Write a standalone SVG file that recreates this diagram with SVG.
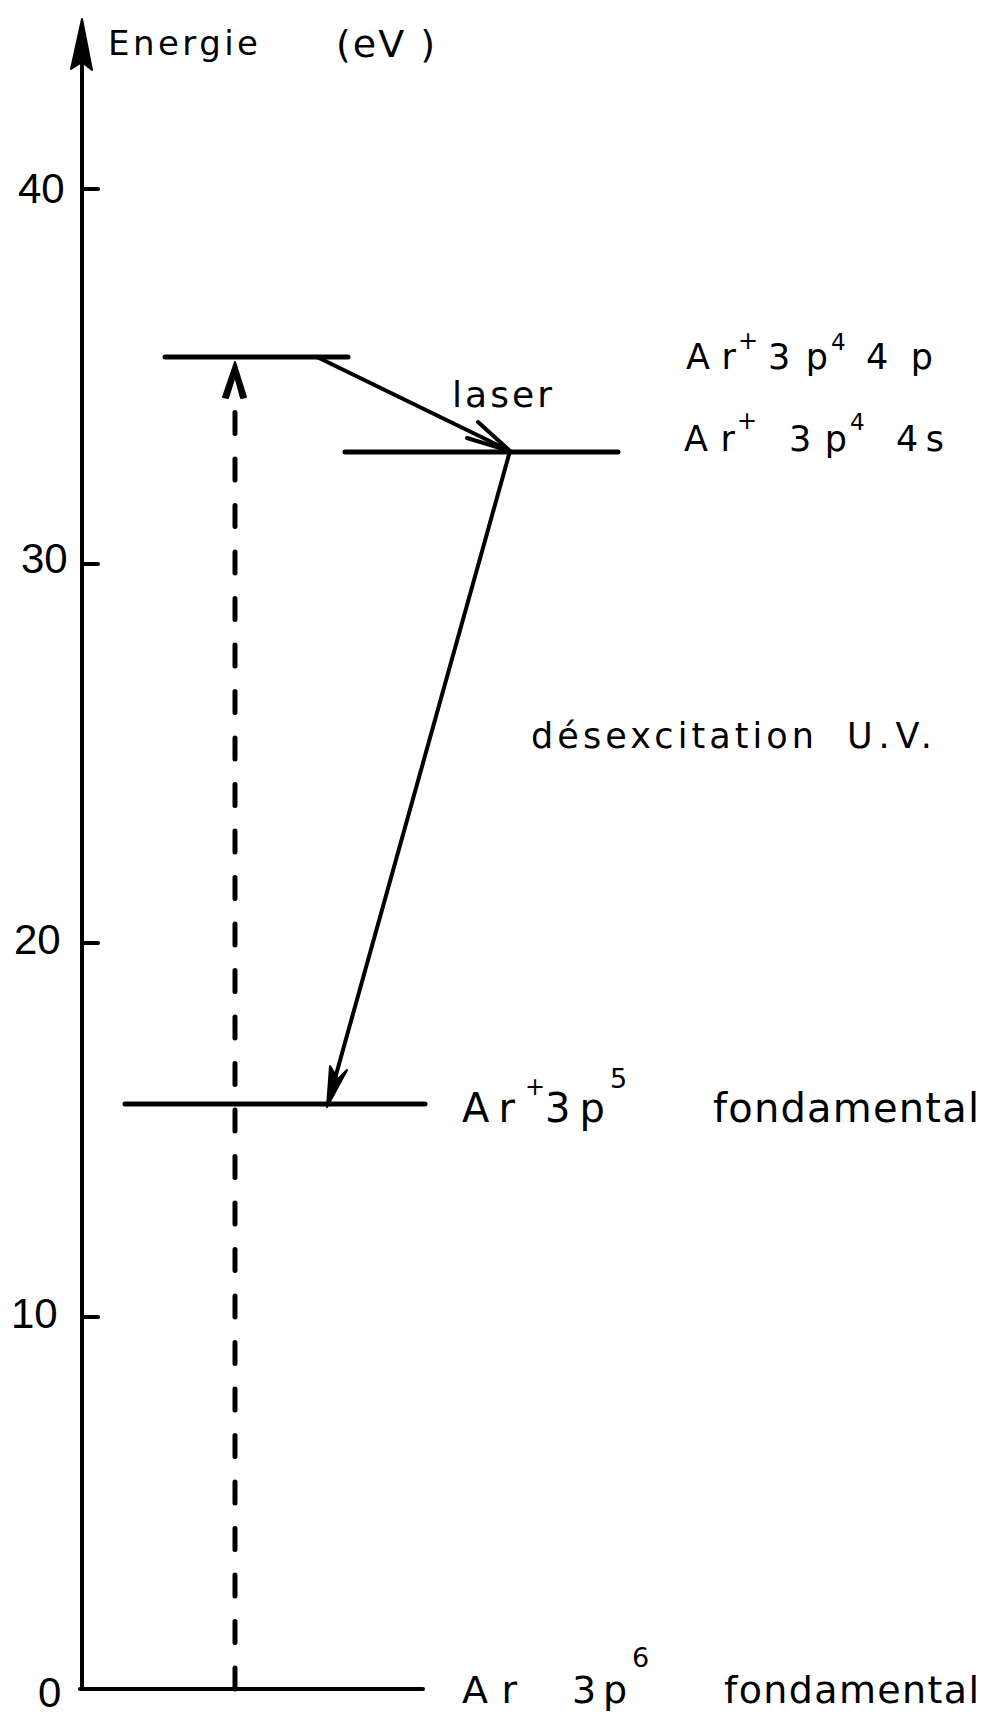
<svg xmlns="http://www.w3.org/2000/svg" width="990" height="1724" viewBox="0 0 990 1724">
<style>
.ln{stroke:#000;stroke-linecap:round;fill:none}
.ax{stroke-width:4}
.lv{stroke-width:5}
.ar{stroke-width:4}
.t{font-family:"DejaVu Sans","Liberation Sans",sans-serif;fill:#000}
.n{font-family:"Liberation Sans","DejaVu Sans",sans-serif;fill:#000;font-size:42px}
.hd{fill:#000;stroke:#000;stroke-width:2;stroke-linejoin:round}
</style>
<rect x="0" y="0" width="990" height="1724" fill="#fff"/>
<g id="axis">
<line class="ln ax" x1="82" y1="1689" x2="82" y2="55"/>
<polygon class="hd" points="82,19 71,69 82,62 92,70"/>
<line class="ln ax" x1="80" y1="1689" x2="423" y2="1689"/>
<line class="ln ax" x1="82" y1="189" x2="98" y2="189"/>
<line class="ln ax" x1="82" y1="564" x2="98" y2="564"/>
<line class="ln ax" x1="82" y1="943" x2="98" y2="943"/>
<line class="ln ax" x1="82" y1="1317" x2="98" y2="1317"/>
<text class="t" x="108" y="55" font-size="34" textLength="150">Energie</text>
<text class="t" x="336" y="57" font-size="38" textLength="99">(eV )</text>
<text class="n" x="18" y="203">40</text>
<text class="n" x="21" y="573">30</text>
<text class="n" x="14" y="954">20</text>
<text class="n" x="11" y="1328">10</text>
<text class="n" x="38" y="1707">0</text>
</g>
<g id="level-4p">
<line class="ln lv" x1="165" y1="357" x2="348" y2="357"/>
<text class="t" font-size="35"><tspan x="686" y="369" textLength="50">Ar</tspan><tspan x="738" y="349" font-size="24" textLength="16">+</tspan><tspan x="768" y="369" textLength="60">3p</tspan><tspan x="831" y="350" font-size="23" textLength="15">4</tspan><tspan x="866" y="369" textLength="67">4p</tspan></text>
</g>
<g id="level-4s">
<line class="ln lv" x1="345" y1="452" x2="618" y2="452"/>
<text class="t" font-size="35"><tspan x="684" y="451" textLength="51">Ar</tspan><tspan x="737" y="429" font-size="24" textLength="17">+</tspan><tspan x="789" y="451" textLength="58">3p</tspan><tspan x="850" y="430" font-size="23" textLength="16">4</tspan><tspan x="896" y="451" textLength="48">4s</tspan></text>
</g>
<g id="level-3p5">
<line class="ln lv" x1="125" y1="1104" x2="425" y2="1104"/>
<text class="t" font-size="40"><tspan x="462" y="1122" textLength="53">Ar</tspan><tspan x="525" y="1095" font-size="24" textLength="15">+</tspan><tspan x="545" y="1122" textLength="60">3p</tspan><tspan x="610" y="1088" font-size="27" textLength="16">5</tspan><tspan x="713" y="1122" textLength="266">fondamental</tspan></text>
</g>
<g id="level-3p6">
<text class="t" font-size="38"><tspan x="462" y="1703" textLength="55">Ar</tspan><tspan x="572" y="1703" textLength="55">3p</tspan><tspan x="632" y="1667" font-size="27" textLength="18">6</tspan><tspan x="724" y="1703" textLength="255">fondamental</tspan></text>
</g>
<g id="connectors">
<line class="ln" stroke-width="5" x1="235" y1="1689" x2="235" y2="412" stroke-dasharray="21 25.5"/>
<polygon class="hd" points="235,362 223,397 228,398 235,376 241,398 246,397"/>
<line class="ln ar" x1="317" y1="357" x2="508" y2="450"/>
<polyline class="ln ar" stroke-linejoin="round" points="467,438 510,451 478,422"/>
<line class="ln ar" x1="510" y1="451" x2="329" y2="1100"/>
<polygon class="hd" points="327,1107 330,1066 338,1079 347,1070"/>
<text class="t" x="452" y="407" font-size="36" textLength="100">laser</text>
<text class="t" x="531" y="748" font-size="35" textLength="283">désexcitation</text>
<text class="t" x="847" y="748" font-size="35" textLength="85">U.V.</text>
</g>
</svg>
